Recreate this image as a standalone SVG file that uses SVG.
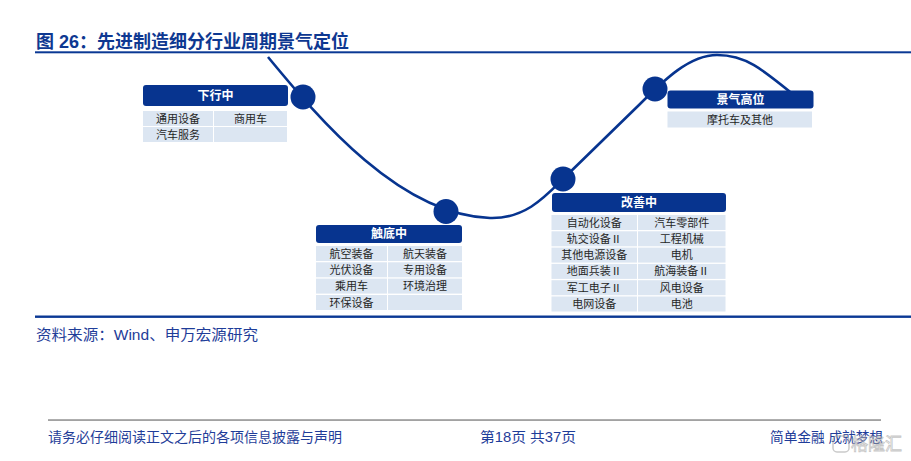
<svg xmlns="http://www.w3.org/2000/svg" width="911" height="461" viewBox="0 0 911 461">
<style>
.hd{fill:#07348f}
.cell{fill:#dce6f2}
.ht{font-family:"Noto Sans CJK SC","Liberation Sans",sans-serif;font-size:12px;font-weight:bold;fill:#fff;text-anchor:middle}
.ct{font-family:"Noto Sans CJK SC","Liberation Sans",sans-serif;font-size:11px;fill:#262626;text-anchor:middle}
.dot{fill:#07348f}
.ft{font-family:"Liberation Sans","Noto Sans CJK SC",sans-serif;font-size:14px;fill:#1f3d99}
</style>
<rect width="911" height="461" fill="#fff"/>
<g id="title">
<text x="36" y="48" font-family="'Liberation Sans','Noto Sans CJK SC',sans-serif" font-size="18" font-weight="bold" fill="#0e3891">图 26：先进制造细分行业周期景气定位</text>
<rect x="35" y="51.3" width="876" height="2" fill="#0a3894"/>
</g>
<g id="connectors">
<path d="M268 57 C320 120 400 215 490 218 C525 219 545 197 563 179 L640 104 C665 79 690 55 717 55 C745 55 760 67 800 100" fill="none" stroke="#07348f" stroke-width="2.6"/>
</g>
<g id="dots">
<circle class="dot" cx="303" cy="97" r="12.5"/>
<circle class="dot" cx="446" cy="211.5" r="12.5"/>
<circle class="dot" cx="563" cy="179" r="12.5"/>
<circle class="dot" cx="655" cy="89" r="12.5"/>
</g>
<g id="node-down">
<rect class="hd" x="143" y="85" width="145" height="21" rx="3"/>
<text class="ht" x="215.5" y="99.8">下行中</text>
<rect class="cell" x="143" y="111" width="70" height="15"/>
<rect class="cell" x="214" y="111" width="73" height="15"/>
<rect class="cell" x="143" y="127" width="70" height="15"/>
<rect class="cell" x="214" y="127" width="73" height="15"/>
<text class="ct" x="178" y="122.5">通用设备</text>
<text class="ct" x="250.5" y="122.5">商用车</text>
<text class="ct" x="178" y="138.5">汽车服务</text>
</g>
<g id="node-bottom">
<rect class="hd" x="316" y="225" width="146" height="18" rx="3"/>
<text class="ht" x="389" y="238.2">触底中</text>
<rect class="cell" x="316" y="246" width="71" height="15"/>
<rect class="cell" x="388" y="246" width="74" height="15"/>
<rect class="cell" x="316" y="262.3" width="71" height="15"/>
<rect class="cell" x="388" y="262.3" width="74" height="15"/>
<rect class="cell" x="316" y="278.6" width="71" height="15"/>
<rect class="cell" x="388" y="278.6" width="74" height="15"/>
<rect class="cell" x="316" y="295" width="71" height="15"/>
<rect class="cell" x="388" y="295" width="74" height="15"/>
<text class="ct" x="351.5" y="257.5">航空装备</text>
<text class="ct" x="425" y="257.5">航天装备</text>
<text class="ct" x="351.5" y="273.8">光伏设备</text>
<text class="ct" x="425" y="273.8">专用设备</text>
<text class="ct" x="351.5" y="290.1">乘用车</text>
<text class="ct" x="425" y="290.1">环境治理</text>
<text class="ct" x="351.5" y="306.5">环保设备</text>
</g>
<g id="node-improve">
<rect class="hd" x="552" y="193" width="174" height="19" rx="3"/>
<text class="ht" x="639" y="206.8">改善中</text>
<rect class="cell" x="551.5" y="215" width="85.5" height="15"/>
<rect class="cell" x="638" y="215" width="87.5" height="15"/>
<rect class="cell" x="551.5" y="231.3" width="85.5" height="15"/>
<rect class="cell" x="638" y="231.3" width="87.5" height="15"/>
<rect class="cell" x="551.5" y="247.6" width="85.5" height="15"/>
<rect class="cell" x="638" y="247.6" width="87.5" height="15"/>
<rect class="cell" x="551.5" y="263.9" width="85.5" height="15"/>
<rect class="cell" x="638" y="263.9" width="87.5" height="15"/>
<rect class="cell" x="551.5" y="280.2" width="85.5" height="15"/>
<rect class="cell" x="638" y="280.2" width="87.5" height="15"/>
<rect class="cell" x="551.5" y="296.5" width="85.5" height="15"/>
<rect class="cell" x="638" y="296.5" width="87.5" height="15"/>
<text class="ct" x="594.3" y="226.5">自动化设备</text>
<text class="ct" x="681.7" y="226.5">汽车零部件</text>
<text class="ct" x="594.3" y="242.8">轨交设备Ⅱ</text>
<text class="ct" x="681.7" y="242.8">工程机械</text>
<text class="ct" x="594.3" y="259.1">其他电源设备</text>
<text class="ct" x="681.7" y="259.1">电机</text>
<text class="ct" x="594.3" y="275.4">地面兵装Ⅱ</text>
<text class="ct" x="681.7" y="275.4">航海装备Ⅱ</text>
<text class="ct" x="594.3" y="291.7">军工电子Ⅱ</text>
<text class="ct" x="681.7" y="291.7">风电设备</text>
<text class="ct" x="594.3" y="308">电网设备</text>
<text class="ct" x="681.7" y="308">电池</text>
</g>
<g id="node-high">
<rect class="hd" x="667.5" y="90.5" width="146" height="18" rx="3"/>
<text class="ht" x="740.5" y="103.7">景气高位</text>
<rect class="cell" x="667.5" y="111.5" width="144.5" height="16"/>
<text class="ct" x="740" y="123.5">摩托车及其他</text>
</g>
<g id="source">
<rect x="35" y="315.5" width="876" height="2.4" fill="#0a3894"/>
<text x="36" y="340" font-family="'Liberation Sans','Noto Sans CJK SC',sans-serif" font-size="15" fill="#1f3d99" textLength="222" lengthAdjust="spacingAndGlyphs">资料来源：Wind、申万宏源研究</text>
</g>
<g id="footer">
<rect x="48" y="419.3" width="833" height="1.5" fill="#8c8c8c"/>
<text class="ft" x="48" y="442">请务必仔细阅读正文之后的各项信息披露与声明</text>
<text class="ft" x="480" y="442" textLength="96" lengthAdjust="spacingAndGlyphs">第18页 共37页</text>
<text class="ft" x="770" y="442" textLength="113" lengthAdjust="spacingAndGlyphs">简单金融 成就梦想</text>
</g>
<g id="watermark" opacity="0.55">
<rect x="833" y="436" width="16" height="16" rx="4" fill="none" stroke="#a0a0a0" stroke-width="1.5"/>
<text x="851" y="450" font-family="'Noto Sans CJK SC',sans-serif" font-size="17" fill="#fff" stroke="#9a9a9a" stroke-width="0.8">格隆汇</text>
</g>
</svg>
